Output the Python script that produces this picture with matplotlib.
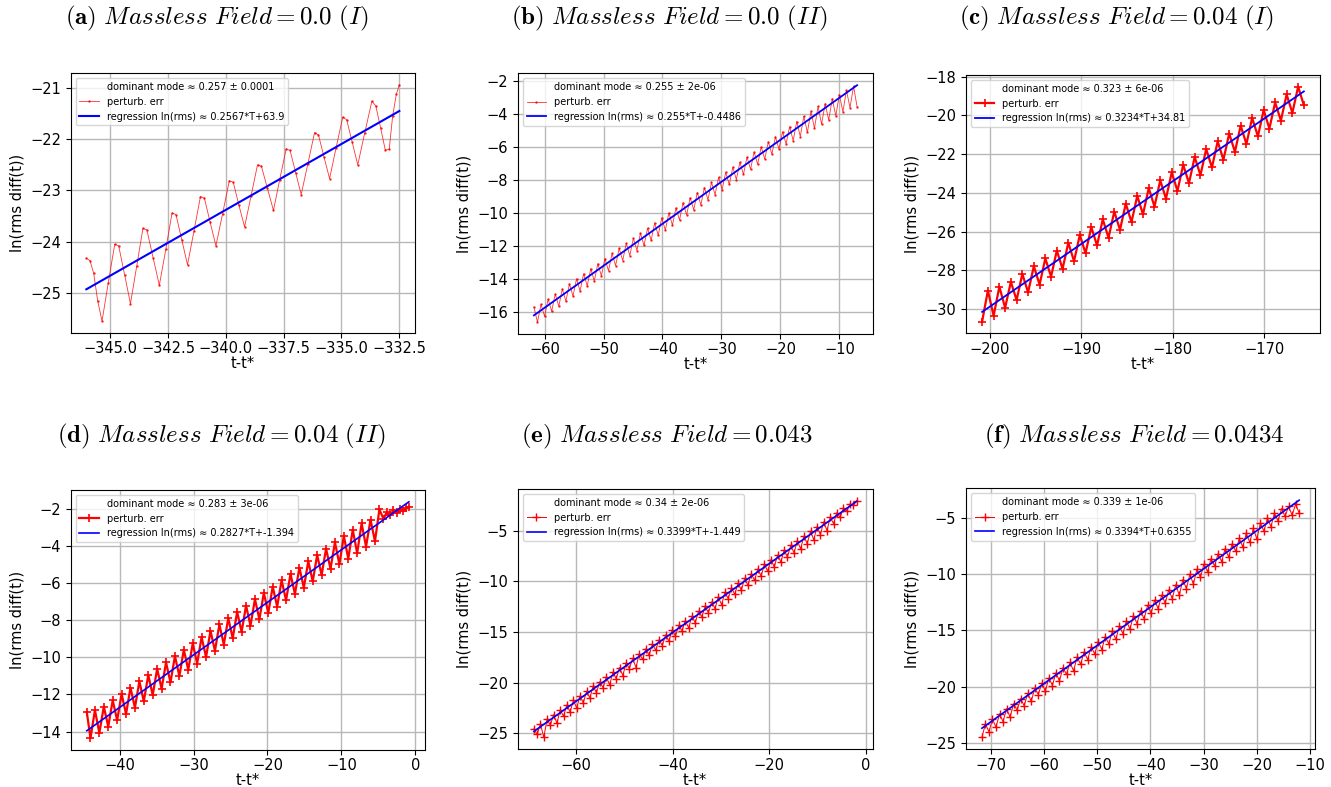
import numpy as np
import matplotlib
matplotlib.use("Agg")
import matplotlib.pyplot as plt
from matplotlib.ticker import MultipleLocator, FuncFormatter

plt.rcParams['mathtext.fontset'] = 'cm'

# ---------------- data ----------------
# (a) Massless Field = 0.0 (I)
t_a = [-346.04, -345.88, -345.72, -345.55, -345.36, -345.09, -344.81, -344.64, -344.38,
       -344.13, -343.86, -343.59, -343.42, -343.15, -342.88, -342.60, -342.33, -342.16,
       -341.91, -341.66, -341.38, -341.10, -340.93, -340.68, -340.43, -340.14, -339.85,
       -339.68, -339.44, -339.19, -338.91, -338.63, -338.46, -338.20, -337.94, -337.67,
       -337.39, -337.22, -336.98, -336.74, -336.45, -336.16, -335.99, -335.75, -335.51,
       -335.23, -334.94, -334.77, -334.53, -334.29, -333.99, -333.68, -333.51, -333.30,
       -333.10, -332.93, -332.78, -332.62, -332.49]
y_a = [-24.32, -24.37, -24.62, -25.15, -25.55, -24.80, -24.05, -24.08, -24.65,
       -25.21, -24.48, -23.74, -23.77, -24.31, -24.85, -24.15, -23.44, -23.47,
       -23.96, -24.45, -23.79, -23.12, -23.15, -23.62, -24.08, -23.45, -22.81,
       -22.84, -23.28, -23.71, -23.11, -22.50, -22.53, -22.96, -23.39, -22.79,
       -22.19, -22.22, -22.65, -23.08, -22.48, -21.87, -21.92, -22.35, -22.77,
       -22.17, -21.57, -21.62, -22.06, -22.50, -21.88, -21.26, -21.35, -21.78,
       -22.21, -22.20, -21.55, -21.12, -20.94]

# (b) Massless Field = 0.0 (II)  (uniform time sampling)
t_b_range = (-61.8, -7.0)
y_b = [-15.70,
       -16.62, -15.53, -16.27, -15.22, -15.96, -14.91, -15.66, -14.61, -15.35, -14.30,
       -15.04, -13.99, -14.73, -13.68, -14.42, -13.37, -14.12, -13.07, -13.81, -12.76,
       -13.50, -12.45, -13.19, -12.14, -12.88, -11.83, -12.58, -11.53, -12.27, -11.22,
       -11.96, -10.91, -11.65, -10.60, -11.34, -10.29, -11.04, -9.99, -10.73, -9.68,
       -10.42, -9.37, -10.11, -9.06, -9.80, -8.75, -9.50, -8.45, -9.19, -8.14,
       -8.88, -7.83, -8.57, -7.52, -8.26, -7.21, -7.96, -6.91, -7.65, -6.60,
       -7.34, -6.29, -7.03, -5.98, -6.72, -5.67, -6.42, -5.37, -6.11, -5.06,
       -5.80, -4.75, -5.60, -4.44, -5.35, -4.13, -5.10, -3.83, -4.85, -3.52,
       -4.60, -3.35, -4.35, -3.05, -4.10, -2.80, -3.85, -2.55, -3.60, -2.30,
       -3.55]

# (c) Massless Field = 0.04 (I)
t_c_range = (-200.87, -165.65)
y_c = [-30.65, -29.05, -30.35, -28.85, -29.94, -28.60, -29.54, -28.19, -29.14, -27.79,
       -28.74, -27.39, -28.33, -26.98, -27.93, -26.58, -27.53, -26.18, -27.12, -25.77,
       -26.72, -25.37, -26.32, -24.97, -25.91, -24.56, -25.51, -24.16, -25.11, -23.76,
       -24.71, -23.36, -24.30, -22.95, -23.90, -22.55, -23.50, -22.15, -23.09, -21.74,
       -22.69, -21.34, -22.29, -20.94, -21.88, -20.53, -21.48, -20.13, -21.08, -19.73,
       -20.68, -19.33, -20.27, -18.92, -19.87, -18.52, -19.47]

# (d) Massless Field = 0.04 (II)
t_d_start = [-44.45]
t_d_range = (-43.95, -4.85)
t_d_tail = [-4.30, -3.85, -3.40, -2.95, -2.50, -2.05, -1.60, -1.20, -0.86]
y_d = [-12.95,
       -14.36, -12.85, -14.08, -12.66, -13.74, -12.32, -13.40, -11.98, -13.06, -11.64,
       -12.72, -11.30, -12.38, -10.96, -12.04, -10.62, -11.70, -10.28, -11.36, -9.94,
       -11.02, -9.60, -10.68, -9.26, -10.34, -8.92, -10.00, -8.58, -9.66, -8.24,
       -9.32, -7.90, -8.98, -7.56, -8.64, -7.22, -8.30, -6.88, -7.96, -6.54,
       -7.62, -6.20, -7.28, -5.86, -6.94, -5.52, -6.60, -5.18, -6.26, -4.84,
       -5.92, -4.50, -5.58, -4.16, -5.24, -3.82, -5.00, -3.48, -4.70, -3.14,
       -4.40, -2.80, -4.05, -2.60, -3.76, -2.05,
       -2.55, -2.20, -2.35, -2.10, -2.25, -2.05, -2.15, -1.95, -1.90]

# (e) Massless Field = 0.043
t_e_range = (-68.7, -1.96)
y_e = [-24.55, -25.10, -24.05, -25.40, -23.60, -24.20, -23.15, -24.00, -22.68, -23.30,
       -22.20, -22.90, -21.75, -22.50, -21.30, -22.00, -20.85, -21.50, -20.35, -21.00,
       -19.90, -20.50, -19.45, -20.20, -18.98, -19.60, -18.50, -19.30, -18.05, -18.60,
       -17.60, -18.50, -17.12, -17.70, -16.65, -17.30, -16.20, -16.80, -15.75, -16.35,
       -15.28, -15.90, -14.80, -15.40, -14.35, -14.90, -13.88, -14.60, -13.42, -14.10,
       -12.95, -13.50, -12.48, -13.10, -12.02, -12.70, -11.55, -12.30, -11.10, -11.70,
       -10.63, -11.30, -10.17, -10.90, -9.70, -10.40, -9.25, -9.90, -8.78, -9.50,
       -8.32, -9.00, -7.85, -8.60, -7.40, -8.10, -6.93, -7.60, -6.46, -7.20,
       -6.00, -6.80, -5.54, -6.30, -5.07, -5.90, -4.60, -5.40, -4.15, -5.00,
       -3.70, -4.30, -3.22, -3.70, -2.78, -3.10, -2.35, -2.50, -2.06]

# (f) Massless Field = 0.0434
t_f_range = (-71.65, -12.05)
y_f = [-24.50, -23.30, -24.00, -22.85, -23.60, -22.40, -23.10, -21.95, -22.70, -21.50,
       -22.10, -21.05, -21.70, -20.58, -21.30, -20.12, -20.70, -19.67, -20.40, -19.20,
       -19.90, -18.75, -19.50, -18.30, -18.90, -17.84, -18.60, -17.38, -18.00, -16.92,
       -17.60, -16.46, -17.10, -16.00, -16.70, -15.55, -16.20, -15.08, -15.80, -14.62,
       -15.30, -14.16, -14.90, -13.70, -14.40, -13.25, -14.00, -12.78, -13.50, -12.32,
       -13.10, -11.86, -12.60, -11.40, -12.20, -10.95, -11.90, -10.50, -11.30, -10.03,
       -10.90, -9.57, -10.30, -9.10, -9.80, -8.65, -9.30, -8.20, -8.90, -7.75,
       -8.50, -7.30, -8.00, -6.85, -7.60, -6.40, -7.20, -5.95, -6.90, -5.50,
       -6.20, -5.05, -5.80, -4.60, -5.30, -4.20, -4.90, -4.00, -4.80, -3.80,
       -4.60]

titles = ["Massless Field = 0.0 (I)", "Massless Field = 0.0 (II)",
          "Massless Field = 0.04 (I)", "Massless Field = 0.04 (II)",
          "Massless Field = 0.043", "Massless Field = 0.0434"]
letters = ["a", "b", "c", "d", "e", "f"]
mode_labels = ["dominant mode ≈ 0.257 ± 0.0001", "dominant mode ≈ 0.255 ± 2e-06",
               "dominant mode ≈ 0.323 ± 6e-06", "dominant mode ≈ 0.283 ± 3e-06",
               "dominant mode ≈ 0.34 ± 2e-06", "dominant mode ≈ 0.339 ± 1e-06"]
slopes = [0.2567, 0.255, 0.3234, 0.2827, 0.3399, 0.3394]
intercepts = [63.9, -0.4486, 34.81, -1.394, -1.449, 0.6355]
reg_labels = ["regression ln(rms) ≈ 0.2567*T+63.9", "regression ln(rms) ≈ 0.255*T+-0.4486",
              "regression ln(rms) ≈ 0.3234*T+34.81", "regression ln(rms) ≈ 0.2827*T+-1.394",
              "regression ln(rms) ≈ 0.3399*T+-1.449", "regression ln(rms) ≈ 0.3394*T+0.6355"]
x_tick_steps = [2.5, 10, 10, 10, 20, 10]
x_tick_fmt = ['%.1f', '%d', '%d', '%d', '%d', '%d']
y_tick_steps = [1, 2, 2, 2, 5, 5]

# ---------------- build series ----------------
t_b = np.linspace(t_b_range[0], t_b_range[1], len(y_b))
t_c = np.linspace(t_c_range[0], t_c_range[1], len(y_c))
t_d = np.concatenate([t_d_start,
                      np.linspace(t_d_range[0], t_d_range[1], len(y_d) - len(t_d_start) - len(t_d_tail)),
                      t_d_tail])
t_e = np.linspace(t_e_range[0], t_e_range[1], len(y_e))
t_f = np.linspace(t_f_range[0], t_f_range[1], len(y_f))

series = [(np.array(t_a), np.array(y_a)), (t_b, np.array(y_b)), (t_c, np.array(y_c)),
          (t_d, np.array(y_d)), (t_e, np.array(y_e)), (t_f, np.array(y_f))]

styles = [dict(marker='.', ms=1.5, lw=0.6, alpha=0.8),
          dict(marker='.', ms=1.5, lw=0.6, alpha=0.8),
          dict(marker='+', ms=6, lw=1.6, mew=1.2),
          dict(marker='+', ms=6, lw=1.6, mew=1.2),
          dict(marker='+', ms=6, lw=0.7, mew=1.0),
          dict(marker='+', ms=6, lw=0.7, mew=1.0)]
reg_lw = [1.5, 1.3, 1.3, 1.2, 1.2, 1.2]

# axes positions (fig fractions)
positions = [[0.0531, 0.5769, 0.2587, 0.3303],
             [0.3890, 0.5756, 0.2671, 0.3312],
             [0.7258, 0.5765, 0.2659, 0.3282],
             [0.0531, 0.0470, 0.2662, 0.3304],
             [0.3890, 0.0479, 0.2667, 0.3308],
             [0.7258, 0.0479, 0.2622, 0.3316]]
title_xy = [(0.163, 0.977), (0.503, 0.977), (0.839, 0.977),
            (0.166, 0.445), (0.501, 0.445), (0.852, 0.445)]


def make_fmt(fmt):
    return FuncFormatter(lambda v, p: (fmt % v).replace('-', '\u2212'))


fig = plt.figure(figsize=(13.31, 7.87), dpi=100)

for i in range(6):
    ax = fig.add_axes(positions[i])
    t, y = series[i]
    ax.plot([], [], ' ', label=mode_labels[i])
    ax.plot(t, y, color='red', label='perturb. err', **styles[i])
    tr = np.array([t.min(), t.max()])
    ax.plot(tr, np.polyval([slopes[i], intercepts[i]], tr), color='blue',
            lw=reg_lw[i], label=reg_labels[i])
    ax.xaxis.set_major_locator(MultipleLocator(x_tick_steps[i]))
    ax.xaxis.set_major_formatter(make_fmt(x_tick_fmt[i]))
    ax.yaxis.set_major_locator(MultipleLocator(y_tick_steps[i]))
    ax.grid(True, color='#b8b8b8', lw=1.0)
    ax.set_axisbelow(True)
    ax.tick_params(labelsize=10.5)
    ax.tick_params(axis='x', pad=2.5)
    ax.set_xlabel('t-t*', fontsize=10.5, labelpad=0)
    ax.set_ylabel('ln(rms diff(t))', fontsize=10.5)
    ax.legend(loc='upper left', fontsize=7)
    txt = titles[i].replace(' = ', '=').replace(' ', r'\ ')
    fig.text(title_xy[i][0], title_xy[i][1],
             r'$\mathbf{(%s)}\ \mathit{%s}$' % (letters[i], txt),
             fontsize=18, ha='center', va='center')

fig.savefig('out.png', dpi=100)
